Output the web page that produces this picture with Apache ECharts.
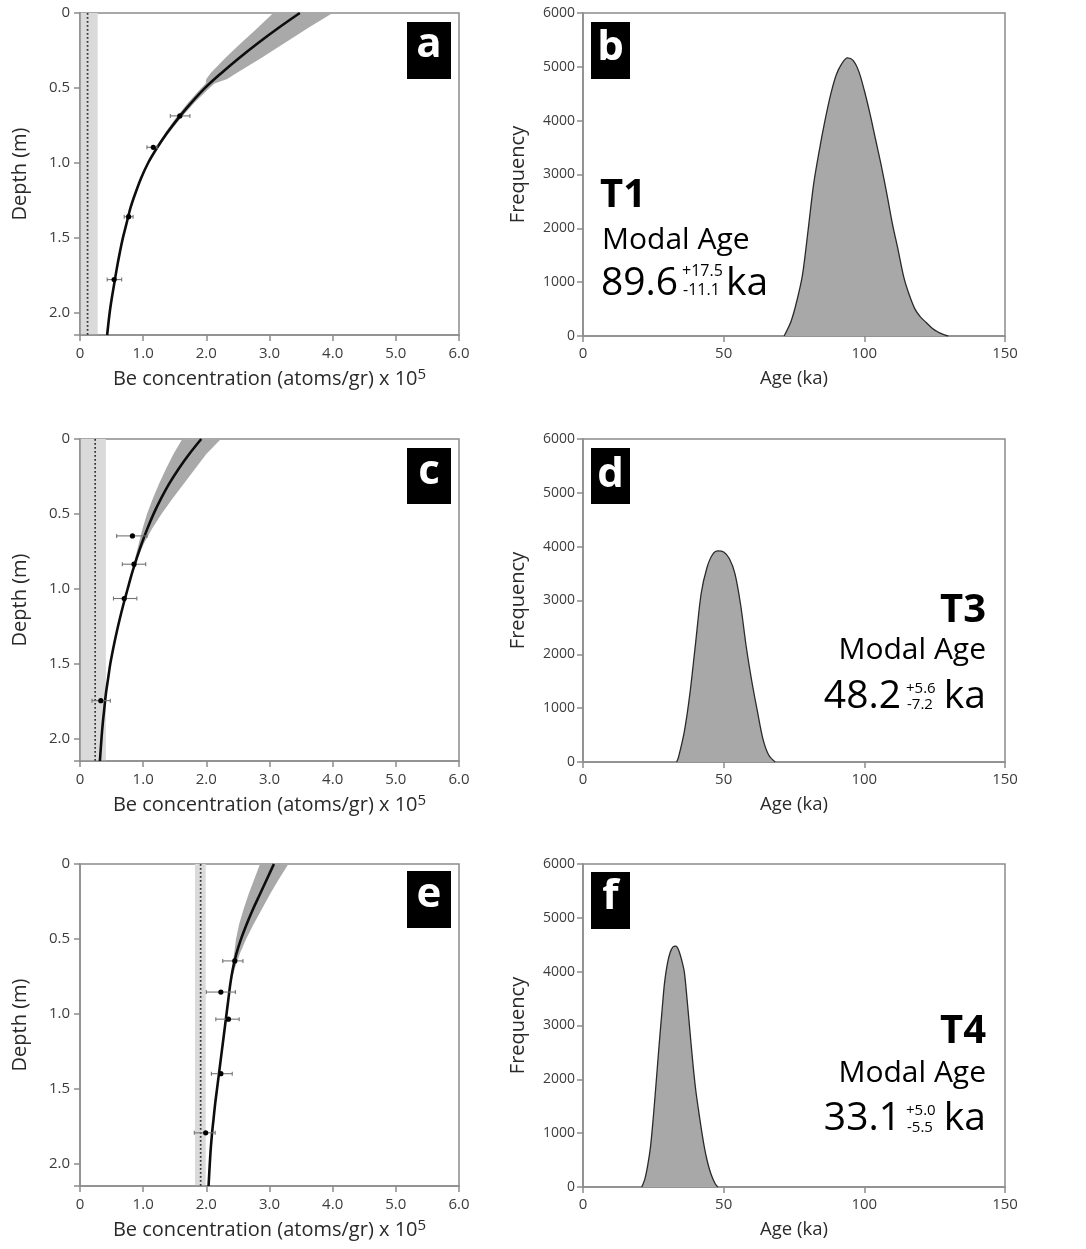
<!DOCTYPE html>
<html>
<head>
<meta charset="utf-8">
<script src="https://cdn.jsdelivr.net/npm/echarts@6/dist/echarts.min.js"></script>
<style>
  html, body { margin: 0; padding: 0; background: #ffffff; }
  #chart { width: 1086px; height: 1249px; }
</style>
</head>
<body>
<div id="chart"></div>
<script>
// ---------- tick labels ----------
const depthTickLabels = ['0', '0.5', '1.0', '1.5', '2.0'];
const concTickLabels = ['0', '1.0', '2.0', '3.0', '4.0', '5.0', '6.0'];
const freqTickLabels = ['0', '1000', '2000', '3000', '4000', '5000', '6000'];
const ageTickLabels = ['0', '50', '100', '150'];

// ---------- 10Be depth profiles: best-fit curves (x 10^5 atoms/g vs depth, m) ----------
const curveDepth = [0, 0.1, 0.2, 0.3, 0.4, 0.5, 0.6, 0.7, 0.8, 0.9, 1.0, 1.1, 1.2, 1.3, 1.4, 1.5, 1.6, 1.7, 1.8, 1.9, 2.0, 2.15];
const curveT1 = [3.48, 3.14, 2.82, 2.52, 2.24, 1.98, 1.76, 1.56, 1.38, 1.22, 1.08, 0.97, 0.88, 0.80, 0.74, 0.68, 0.63, 0.585, 0.545, 0.505, 0.47, 0.43];
const curveT3 = [1.92, 1.73, 1.56, 1.41, 1.28, 1.165, 1.065, 0.975, 0.895, 0.82, 0.755, 0.69, 0.63, 0.575, 0.525, 0.48, 0.445, 0.41, 0.385, 0.36, 0.34, 0.315];
const curveT4 = [3.07, 2.96, 2.85, 2.74, 2.64, 2.55, 2.475, 2.42, 2.38, 2.35, 2.32, 2.29, 2.26, 2.23, 2.20, 2.17, 2.14, 2.115, 2.09, 2.07, 2.055, 2.035];

// ---------- model envelopes around the fits ----------
const envDepthT1 = [0, 0.1, 0.2, 0.3, 0.4, 0.44, 0.47, 0.5, 0.6, 0.7, 0.8, 0.9, 1.0, 1.1];
const envLoT1 = [3.06, 2.81, 2.55, 2.30, 2.07, 2.00, 1.99, 1.92, 1.71, 1.52, 1.35, 1.20, 1.07, 0.97];
const envHiT1 = [4.00, 3.61, 3.24, 2.87, 2.48, 2.33, 2.13, 2.05, 1.81, 1.60, 1.41, 1.24, 1.09, 0.97];

const envDepthT3 = [0, 0.1, 0.2, 0.3, 0.4, 0.5, 0.6, 0.7, 0.8, 0.9];
const envLoT3 = [1.62, 1.48, 1.36, 1.25, 1.15, 1.06, 0.99, 0.93, 0.87, 0.82];
const envHiT3 = [2.23, 2.00, 1.82, 1.64, 1.46, 1.29, 1.14, 1.01, 0.91, 0.82];

const envDepthT4 = [0, 0.1, 0.2, 0.3, 0.4, 0.5, 0.6, 0.7, 0.8];
const envLoT4 = [2.85, 2.76, 2.67, 2.59, 2.52, 2.47, 2.44, 2.405, 2.38];
const envHiT4 = [3.30, 3.15, 3.01, 2.88, 2.75, 2.63, 2.53, 2.45, 2.38];

// ---------- inheritance (mean and range) ----------
const inheritT1 = 0.12, inheritRangeT1 = [0, 0.28];
const inheritT3 = 0.24, inheritRangeT3 = [0, 0.41];
const inheritT4 = 1.91, inheritRangeT4 = [1.82, 1.99];

// ---------- measured samples ----------
const sampleDepthT1 = [0.687, 0.897, 1.36, 1.78];
const sampleConcT1 = [1.58, 1.16, 0.77, 0.54];
const sampleLoT1 = [1.43, 1.06, 0.70, 0.43];
const sampleHiT1 = [1.74, 1.22, 0.84, 0.66];

const sampleDepthT3 = [0.647, 0.836, 1.065, 1.747];
const sampleConcT3 = [0.83, 0.855, 0.70, 0.33];
const sampleLoT3 = [0.58, 0.67, 0.53, 0.19];
const sampleHiT3 = [1.06, 1.04, 0.90, 0.48];

const sampleDepthT4 = [0.647, 0.855, 1.036, 1.40, 1.795];
const sampleConcT4 = [2.45, 2.23, 2.35, 2.23, 1.99];
const sampleLoT4 = [2.26, 2.00, 2.15, 2.08, 1.81];
const sampleHiT4 = [2.58, 2.46, 2.52, 2.41, 2.14];

// ---------- age probability distributions (ka, frequency) ----------
const ageT1 = [71.5, 72, 74, 76, 78, 80, 82, 84, 86, 88, 90, 92, 94, 96, 98, 100, 102, 104, 106, 108, 110, 112, 114, 116, 118, 120, 122, 124, 126, 128, 129.8];
const freqT1 = [0, 50, 280, 650, 1130, 1960, 2830, 3450, 4000, 4480, 4850, 5060, 5165, 5120, 4920, 4560, 4130, 3650, 3170, 2640, 2080, 1600, 1100, 760, 500, 350, 250, 150, 80, 30, 0];

const ageT3 = [33.3, 34, 36, 38, 40, 42, 44, 46, 48, 50, 52, 54, 56, 58, 60, 62, 64, 66, 68.3];
const freqT3 = [0, 100, 560, 1270, 2200, 3130, 3600, 3850, 3920, 3900, 3780, 3500, 2930, 2150, 1500, 940, 420, 130, 0];

const ageT4 = [20.9, 22, 23, 24, 25, 26, 27, 28, 29, 30, 31, 32, 33, 34, 35, 36, 37, 38, 39, 40, 41, 42, 43, 44, 45, 46, 47, 47.9];
const freqT4 = [0, 150, 400, 750, 1300, 1940, 2600, 3220, 3800, 4150, 4360, 4460, 4475, 4400, 4230, 4000, 3480, 2900, 2330, 1830, 1450, 1100, 780, 520, 320, 170, 60, 0];

// ---------- styling ----------
const FONT = 'Open Sans';
const AXIS_COLOR = '#8c8c8c';
const LABEL_COLOR = '#3c3c3c';
const TITLE_COLOR = '#2a2a2a';
const ENVELOPE_COLOR = '#a9a9a9';
const INHERIT_COLOR = '#dadada';

const profileGrids = [
  { left: 80, top: 13, width: 379, height: 322 },
  { left: 80, top: 439, width: 379, height: 322 },
  { left: 80, top: 864, width: 379, height: 322 }
];
const histGrids = [
  { left: 583, top: 13, width: 422, height: 323 },
  { left: 583, top: 439, width: 422, height: 323 },
  { left: 583, top: 864, width: 422, height: 323 }
];

function tickFormatter(labels, step) {
  return function (v) {
    const k = Math.round(v / step);
    return Math.abs(v - k * step) < 1e-6 && labels[k] !== undefined ? labels[k] : '';
  };
}

const axisLineStyle = { color: AXIS_COLOR, width: 1.5 };
const labelStyle = { color: LABEL_COLOR, fontFamily: FONT, fontSize: 15 };

function gridCfg(g) {
  return Object.assign({ show: true, borderColor: AXIS_COLOR, borderWidth: 1.5, backgroundColor: 'transparent', containLabel: false }, g);
}

const grid = [];
const xAxis = [];
const yAxis = [];
const series = [];

// profile panels a, c, e
const profiles = [
  { curve: curveT1, envD: envDepthT1, envLo: envLoT1, envHi: envHiT1, inh: inheritT1, inhR: inheritRangeT1,
    sD: sampleDepthT1, sC: sampleConcT1, sLo: sampleLoT1, sHi: sampleHiT1 },
  { curve: curveT3, envD: envDepthT3, envLo: envLoT3, envHi: envHiT3, inh: inheritT3, inhR: inheritRangeT3,
    sD: sampleDepthT3, sC: sampleConcT3, sLo: sampleLoT3, sHi: sampleHiT3 },
  { curve: curveT4, envD: envDepthT4, envLo: envLoT4, envHi: envHiT4, inh: inheritT4, inhR: inheritRangeT4,
    sD: sampleDepthT4, sC: sampleConcT4, sLo: sampleLoT4, sHi: sampleHiT4 }
];

profiles.forEach(function (p, i) {
  const idx = grid.length;
  grid.push(gridCfg(profileGrids[i]));
  xAxis.push({
    gridIndex: idx, type: 'value', min: 0, max: 6, interval: 1, position: 'bottom',
    axisLine: { show: true, onZero: false, lineStyle: axisLineStyle },
    axisTick: { show: true, inside: false, length: 6, lineStyle: axisLineStyle },
    axisLabel: Object.assign({}, labelStyle, { formatter: tickFormatter(concTickLabels, 1), margin: 11 }),
    splitLine: { show: false },
    name: '{t|Be concentration (atoms/gr) x 10}{s|5}',
    nameLocation: 'middle', nameGap: 32,
    nameTextStyle: {
      rich: {
        t: { fontFamily: FONT, fontSize: 20, color: TITLE_COLOR, lineHeight: 24 },
        s: { fontFamily: FONT, fontSize: 15, color: TITLE_COLOR, lineHeight: 13, verticalAlign: 'top' }
      }
    }
  });
  yAxis.push({
    gridIndex: idx, type: 'value', min: 0, max: 2.15, interval: 0.5, inverse: true,
    axisLine: { show: true, onZero: false, lineStyle: axisLineStyle },
    axisTick: { show: true, inside: false, length: 6, lineStyle: axisLineStyle },
    axisLabel: Object.assign({}, labelStyle, { formatter: tickFormatter(depthTickLabels, 0.5), margin: 10 }),
    splitLine: { show: false },
    name: 'Depth (m)', nameLocation: 'middle', nameGap: 50,
    nameTextStyle: { fontFamily: FONT, fontSize: 20, color: TITLE_COLOR }
  });

  // inheritance range (shaded) and mean (dotted)
  series.push({
    type: 'line', xAxisIndex: idx, yAxisIndex: idx, silent: true, z: 1,
    data: [[p.inh, 0], [p.inh, 2.15]],
    symbol: 'none',
    lineStyle: { color: '#333333', width: 1.7, type: [1.7, 2.3] },
    markArea: {
      silent: true, z: 0,
      itemStyle: { color: INHERIT_COLOR },
      data: [[{ xAxis: p.inhR[0] }, { xAxis: p.inhR[1] }]]
    }
  });

  // model envelope
  series.push({
    type: 'custom', xAxisIndex: idx, yAxisIndex: idx, silent: true, clip: true, z: 2,
    data: p.envD.map(function (d, k) { return [p.envLo[k], p.envHi[k], d]; }),
    encode: { x: [0, 1], y: 2 },
    renderItem: function (params, api) {
      if (params.dataIndex !== 0) return null;
      const pts = [];
      for (let k = 0; k < p.envD.length; k++) pts.push(api.coord([p.envLo[k], p.envD[k]]));
      for (let k = p.envD.length - 1; k >= 0; k--) pts.push(api.coord([p.envHi[k], p.envD[k]]));
      return { type: 'polygon', shape: { points: pts }, style: { fill: ENVELOPE_COLOR } };
    }
  });

  // best-fit profile
  series.push({
    type: 'line', xAxisIndex: idx, yAxisIndex: idx, silent: true, z: 3,
    data: curveDepth.map(function (d, k) { return [p.curve[k], d]; }),
    symbol: 'none', smooth: 0.35,
    lineStyle: { color: '#0d0d0d', width: 2.6 }
  });

  // samples with error bars
  series.push({
    type: 'custom', xAxisIndex: idx, yAxisIndex: idx, silent: true, z: 4,
    data: p.sD.map(function (d, k) { return [p.sC[k], d, p.sLo[k], p.sHi[k]]; }),
    encode: { x: [0, 2, 3], y: 1 },
    renderItem: function (params, api) {
      const d = api.value(1);
      const c = api.coord([api.value(0), d]);
      const lo = api.coord([api.value(2), d]);
      const hi = api.coord([api.value(3), d]);
      const bar = { stroke: '#747474', lineWidth: 1.1 };
      return {
        type: 'group',
        children: [
          { type: 'line', shape: { x1: lo[0], y1: lo[1], x2: hi[0], y2: hi[1] }, style: bar },
          { type: 'line', shape: { x1: lo[0], y1: lo[1] - 2, x2: lo[0], y2: lo[1] + 2 }, style: bar },
          { type: 'line', shape: { x1: hi[0], y1: hi[1] - 2, x2: hi[0], y2: hi[1] + 2 }, style: bar },
          { type: 'circle', shape: { cx: c[0], cy: c[1], r: 2.6 }, style: { fill: '#000000' } }
        ]
      };
    }
  });
});

// age distribution panels b, d, f
const hists = [
  { age: ageT1, freq: freqT1 },
  { age: ageT3, freq: freqT3 },
  { age: ageT4, freq: freqT4 }
];
hists.forEach(function (h, i) {
  const idx = grid.length;
  grid.push(gridCfg(histGrids[i]));
  xAxis.push({
    gridIndex: idx, type: 'value', min: 0, max: 150, interval: 50,
    axisLine: { show: true, onZero: false, lineStyle: axisLineStyle },
    axisTick: { show: true, inside: false, length: 6, lineStyle: axisLineStyle },
    axisLabel: Object.assign({}, labelStyle, { formatter: tickFormatter(ageTickLabels, 50), margin: 10 }),
    splitLine: { show: false },
    name: 'Age (ka)', nameLocation: 'middle', nameGap: 33,
    nameTextStyle: { fontFamily: FONT, fontSize: 18.5, color: TITLE_COLOR }
  });
  yAxis.push({
    gridIndex: idx, type: 'value', min: 0, max: 6000, interval: 1000,
    axisLine: { show: true, onZero: false, lineStyle: axisLineStyle },
    axisTick: { show: true, inside: false, length: 6, lineStyle: axisLineStyle },
    axisLabel: Object.assign({}, labelStyle, { formatter: tickFormatter(freqTickLabels, 1000), margin: 8, fontSize: 14 }),
    splitLine: { show: false },
    name: 'Frequency', nameLocation: 'middle', nameGap: 55,
    nameTextStyle: { fontFamily: FONT, fontSize: 20, color: TITLE_COLOR }
  });
  series.push({
    type: 'line', xAxisIndex: idx, yAxisIndex: idx, silent: true, z: 3,
    data: h.age.map(function (a, k) { return [a, h.freq[k]]; }),
    symbol: 'none', smooth: 0.3,
    lineStyle: { color: '#2a2a2a', width: 1.3 },
    areaStyle: { color: '#a8a8a8', opacity: 1 }
  });
});

// panel letters
function panelTag(letter, x, y, w, h, ty) {
  return {
    type: 'group',
    children: [
      { type: 'rect', shape: { x: x, y: y, width: w, height: h }, style: { fill: '#000000' } },
      { type: 'text', style: { text: letter, x: x + w / 2, y: ty, align: 'center', verticalAlign: 'middle',
        font: 'bold 42px "' + FONT + '"', fill: '#ffffff' } }
    ]
  };
}
function txt(s, x, y, size, weight, align) {
  return { type: 'text', style: { text: s, x: x, y: y, align: align || 'left', verticalAlign: 'middle',
    font: (weight || 'normal') + ' ' + size + 'px "' + FONT + '"', fill: '#000000' } };
}

const graphic = [
  panelTag('a', 407, 22, 44, 57, 45.5),
  panelTag('b', 591, 22, 39, 57, 48.5),
  panelTag('c', 407, 448, 44, 56, 472),
  panelTag('d', 591, 448, 39, 56, 475),
  panelTag('e', 407, 871, 44, 57, 895),
  panelTag('f', 591, 872, 39, 57, 897.5),

  // T1
  txt('T1', 600, 196, 40, 'bold'),
  txt('Modal Age', 602, 240, 30),
  txt('89.6', 601, 284, 39),
  txt('+17.5', 682, 271, 16),
  txt('-11.1', 683, 290, 16),
  txt('ka', 726, 284, 39),

  // T3
  txt('T3', 986, 611, 40, 'bold', 'right'),
  txt('Modal Age', 986, 650, 30, 'normal', 'right'),
  txt('ka', 986, 697, 39, 'normal', 'right'),
  txt('+5.6', 906, 689, 15),
  txt('-7.2', 907, 705, 15),
  txt('48.2', 901, 697, 39, 'normal', 'right'),

  // T4
  txt('T4', 986, 1032, 40, 'bold', 'right'),
  txt('Modal Age', 986, 1073, 30, 'normal', 'right'),
  txt('ka', 986, 1119, 39, 'normal', 'right'),
  txt('+5.0', 906, 1111, 15),
  txt('-5.5', 907, 1128, 15),
  txt('33.1', 901, 1119, 39, 'normal', 'right')
];

const chart = echarts.init(document.getElementById('chart'), null, { renderer: 'canvas' });
chart.setOption({
  backgroundColor: '#ffffff',
  animation: false,
  textStyle: { fontFamily: FONT },
  grid: grid,
  xAxis: xAxis,
  yAxis: yAxis,
  series: series,
  graphic: graphic
});
</script>
</body>
</html>
